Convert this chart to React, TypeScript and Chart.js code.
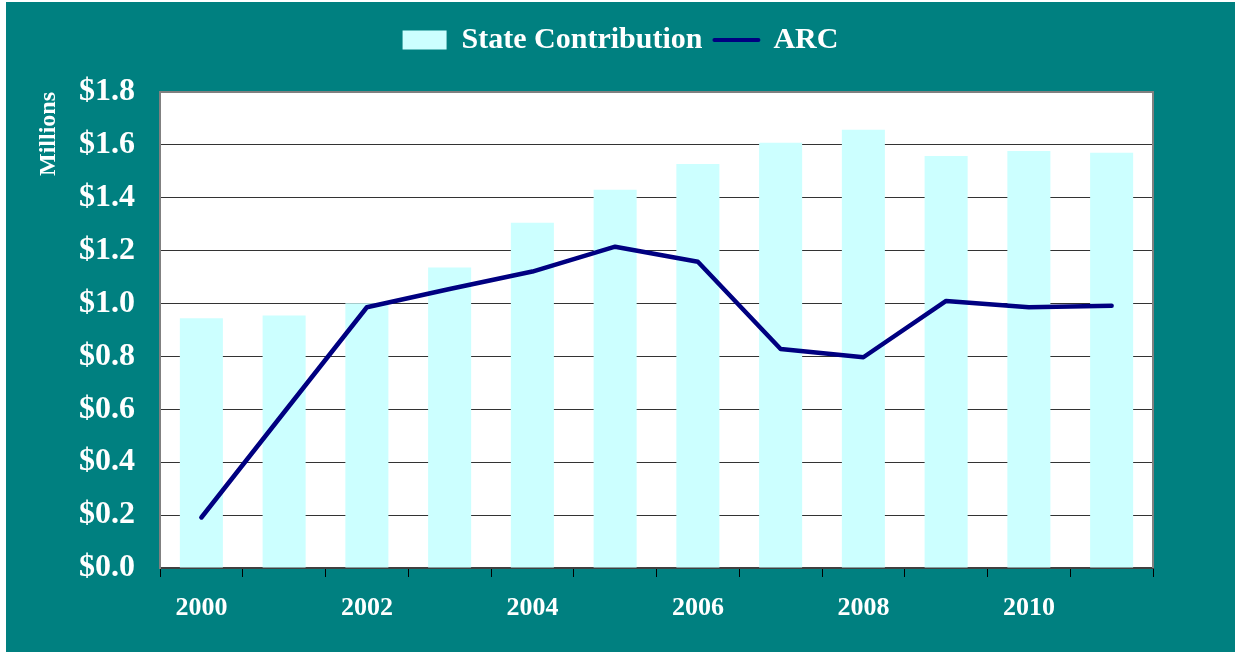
import React, { useEffect, useRef } from "react";
import { Chart, registerables } from "chart.js";

Chart.register(...registerables);

const years = ["2000", "2001", "2002", "2003", "2004", "2005", "2006", "2007", "2008", "2009", "2010", "2011"];
const xTickLabels = ["2000", "", "2002", "", "2004", "", "2006", "", "2008", "", "2010", ""];
const stateContribution = [0.944, 0.955, 1.001, 1.136, 1.306, 1.43, 1.528, 1.608, 1.657, 1.558, 1.577, 1.57];
const arc = [0.191, 0.589, 0.986, 1.055, 1.121, 1.215, 1.158, 0.828, 0.797, 1.01, 0.986, 0.992];
const yTickValues = [0, 0.2, 0.4, 0.6, 0.8, 1.0, 1.2, 1.4, 1.6, 1.8];
const seriesNames = ["State Contribution", "ARC"];
const yTitle = "Millions";

const FONT = "'Liberation Serif', 'Times New Roman', serif";
const W = 1229;
const H = 650;

export default function App() {
  const ref = useRef<HTMLCanvasElement | null>(null);

  useEffect(() => {
    const canvas = ref.current;
    if (!canvas) return;

    const plotBg = {
      id: "plotBg",
      beforeInit(chart: any) {
        const legend = chart.legend;
        if (legend) {
          const orig = legend.fit.bind(legend);
          legend.fit = function () {
            orig();
            this.height += 27;
          };
        }
      },
      beforeDraw(chart: any) {
        const { ctx, chartArea } = chart;
        ctx.save();
        ctx.fillStyle = "#ffffff";
        ctx.fillRect(chartArea.left, chartArea.top, chartArea.right - chartArea.left, chartArea.bottom - chartArea.top);
        ctx.restore();
      },
      afterDraw(chart: any) {
        const { ctx, chartArea } = chart;
        ctx.save();
        ctx.strokeStyle = "#808080";
        ctx.lineWidth = 2;
        ctx.beginPath();
        ctx.moveTo(chartArea.left, chartArea.top);
        ctx.lineTo(chartArea.right, chartArea.top);
        ctx.lineTo(chartArea.right, chartArea.bottom);
        ctx.stroke();
        ctx.restore();
      },
    };

    const chart = new Chart(canvas, {
      type: "bar",
      data: {
        labels: years,
        datasets: [
          {
            type: "bar",
            label: seriesNames[0],
            data: stateContribution,
            backgroundColor: "#CCFFFF",
            borderWidth: 0,
            categoryPercentage: 1,
            barPercentage: 0.52,
            order: 2,
          },
          {
            type: "line",
            label: seriesNames[1],
            data: arc,
            borderColor: "#000080",
            backgroundColor: "#000080",
            borderWidth: 4.5,
            borderCapStyle: "round",
            borderJoinStyle: "round",
            pointRadius: 0,
            tension: 0,
            fill: false,
            order: 1,
          },
        ],
      } as any,
      options: {
        responsive: false,
        animation: false,
        layout: { padding: { top: 11, left: 0, right: 0, bottom: 0 } },
        plugins: {
          tooltip: { enabled: false },
          legend: {
            display: true,
            position: "top",
            align: "center",
            labels: {
              color: "#ffffff",
              font: { family: FONT, size: 30, weight: "bold" },
              usePointStyle: true,
              pointStyleWidth: 44,
              boxWidth: 44,
              boxHeight: 19,
              padding: 12,
              generateLabels: () => [
                {
                  text: seriesNames[0],
                  fillStyle: "#CCFFFF",
                  strokeStyle: "#CCFFFF",
                  lineWidth: 0,
                  pointStyle: "rect",
                  datasetIndex: 0,
                  hidden: false,
                  fontColor: "#ffffff",
                },
                {
                  text: seriesNames[1],
                  fillStyle: "#000080",
                  strokeStyle: "#000080",
                  lineWidth: 4,
                  lineCap: "round",
                  pointStyle: "line",
                  datasetIndex: 1,
                  hidden: false,
                  fontColor: "#ffffff",
                },
              ],
            },
          },
        },
        scales: {
          x: {
            position: "bottom",
            offset: true,
            grid: {
              display: true,
              offset: true,
              drawOnChartArea: false,
              drawTicks: true,
              tickLength: 9,
              color: "#000000",
              tickColor: "#000000",
              lineWidth: 1,
            },
            border: { display: true, color: "#404040", width: 2 },
            ticks: {
              autoSkip: false,
              maxRotation: 0,
              color: "#ffffff",
              padding: 16,
              font: { family: FONT, size: 26, weight: "bold" },
              callback: (_v: any, i: number) => xTickLabels[i],
            },
            afterFit: (s: any) => {
              s.height = 84;
            },
          },
          y: {
            position: "left",
            min: 0,
            max: 1.8,
            afterBuildTicks: (s: any) => {
              s.ticks = yTickValues.map((v) => ({ value: v }));
            },
            grid: {
              display: true,
              drawTicks: false,
              color: "#333333",
              lineWidth: 1,
            },
            border: { display: true, color: "#808080", width: 2 },
            ticks: {
              color: "#ffffff",
              padding: 25,
              font: { family: FONT, size: 32, weight: "bold" },
              callback: (v: any) => "$" + Number(v).toFixed(1),
            },
            title: {
              display: true,
              text: yTitle,
              align: "end",
              color: "#ffffff",
              padding: { top: 28, bottom: 0 },
              font: { family: FONT, size: 24, weight: "bold" },
            },
            afterFit: (s: any) => {
              s.width = 154;
            },
          },
          yRight: {
            type: "linear",
            position: "right",
            display: true,
            grid: { display: false, drawTicks: false },
            border: { display: false },
            ticks: { display: false },
            afterFit: (s: any) => {
              s.width = 82;
            },
          },
        },
      } as any,
      plugins: [plotBg],
    });

    return () => chart.destroy();
  }, []);

  return (
    <div
      style={{
        position: "fixed",
        left: 6,
        top: 2,
        width: W,
        height: H,
        background: "#008080",
      }}
    >
      <canvas ref={ref} width={W} height={H} style={{ display: "block", width: W, height: H }} />
    </div>
  );
}
